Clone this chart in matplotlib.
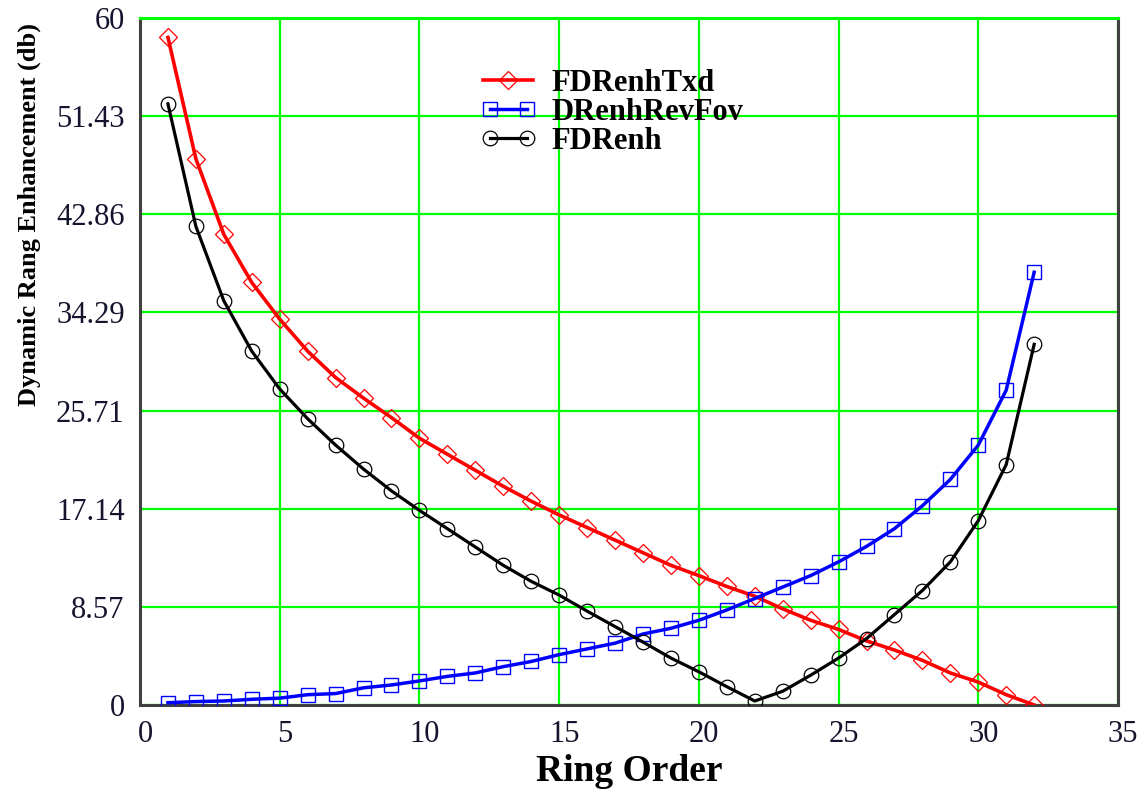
import matplotlib
matplotlib.use("Agg")
import matplotlib.pyplot as plt
from matplotlib.legend_handler import HandlerLine2D
from matplotlib.transforms import ScaledTranslation

# Ring order index
ring_order = list(range(1, 33))

# Dynamic range enhancement (dB) per ring
fdrenh_txd = [58.3, 47.7, 41.1, 36.9, 33.7, 30.9, 28.6, 26.8, 25.1, 23.3,
              21.9, 20.5, 19.1, 17.8, 16.6, 15.5, 14.4, 13.3, 12.2, 11.3,
              10.35, 9.5, 8.4, 7.4, 6.6, 5.6, 4.8, 3.9, 2.8, 2.0, 0.9, 0.0]
drenh_rev_fov = [0.2, 0.3, 0.35, 0.5, 0.6, 0.9, 1.0, 1.5, 1.75, 2.1,
                 2.5, 2.8, 3.35, 3.8, 4.4, 4.9, 5.4, 6.2, 6.7, 7.4,
                 8.3, 9.3, 10.3, 11.3, 12.5, 13.85, 15.4, 17.4, 19.7, 22.7,
                 27.5, 37.8]
fdrenh = [52.5, 41.8, 35.3, 30.9, 27.6, 25.0, 22.7, 20.6, 18.7, 17.0,
          15.4, 13.8, 12.2, 10.8, 9.6, 8.2, 6.85, 5.5, 4.1, 2.9,
          1.6, 0.35, 1.2, 2.6, 4.1, 5.8, 7.9, 10.0, 12.5, 16.1,
          21.0, 31.5]

series_labels = ["FDRenhTxd", "DRenhRevFov", "FDRenh"]

x_ticks = [0, 5, 10, 15, 20, 25, 30, 35]
y_ticks = [0, 60 / 7, 120 / 7, 180 / 7, 240 / 7, 300 / 7, 360 / 7, 60]
y_tick_labels = ["0", "8.57", "17.14", "25.71", "34.29", "42.86", "51.43", "60"]

serif = ["Liberation Serif", "DejaVu Serif"]
tick_color = "#14142e"
grid_green = "#00ff00"
frame_gray = "#404040"

fig = plt.figure(figsize=(11.46, 7.93), dpi=100)
ax = fig.add_axes([140 / 1146, 1 - 705 / 793, 978 / 1146, 687 / 793])

ax.set_xlim(0, 35)
ax.set_ylim(0, 60)
ax.set_xticks(x_ticks)
ax.set_yticks(y_ticks)
ax.set_yticklabels(y_tick_labels)

ax.grid(True, color=grid_green, linewidth=1.6)
ax.set_axisbelow(True)
ax.tick_params(length=0, colors=tick_color, labelsize=22)
ax.tick_params(axis="y", pad=11)
ax.tick_params(axis="x", pad=11)
for lab in ax.get_xticklabels() + ax.get_yticklabels():
    lab.set_fontfamily(serif)
# nudge the x tick labels slightly to the right
shift = ScaledTranslation(5 / 100, 0, fig.dpi_scale_trans)
for lab in ax.get_xticklabels():
    lab.set_transform(lab.get_transform() + shift)

for side in ("left", "bottom", "right"):
    ax.spines[side].set_color(frame_gray)
    ax.spines[side].set_linewidth(2.2)
ax.spines["top"].set_color(grid_green)
ax.spines["top"].set_linewidth(2.2)

l_red, = ax.plot(ring_order, fdrenh_txd, color="#ff0000", linewidth=2.6,
                 marker="D", markersize=9.5, markerfacecolor="none",
                 markeredgecolor="#ff0000", markeredgewidth=0.9,
                 label=series_labels[0], zorder=3)
l_blue, = ax.plot(ring_order, drenh_rev_fov, color="#0000ff", linewidth=2.5,
                  marker="s", markersize=10.5, markerfacecolor="none",
                  markeredgecolor="#0000ff", markeredgewidth=1.0,
                  label=series_labels[1], zorder=4)
l_black, = ax.plot(ring_order, fdrenh, color="black", linewidth=2.3,
                   marker="o", markersize=10.5, markerfacecolor="none",
                   markeredgecolor="black", markeredgewidth=0.9,
                   label=series_labels[2], zorder=5)

ax.set_xlabel("Ring Order", fontsize=27, fontweight="bold",
              fontfamily=serif, color="black")
ax.xaxis.set_label_coords(0.5, -0.071)
ax.xaxis.label.set_va("top")
ax.set_ylabel("Dynamic Rang Enhancement (db)", fontsize=19,
              fontweight="bold", fontfamily=serif, color="black")
ax.yaxis.set_label_coords(-0.101, 0.714)

leg = ax.legend(
    handles=[l_red, l_blue, l_black],
    handler_map={
        l_red: HandlerLine2D(numpoints=1),
        l_blue: HandlerLine2D(numpoints=2, marker_pad=0.22),
        l_black: HandlerLine2D(numpoints=2, marker_pad=0.22),
    },
    loc="upper left",
    bbox_to_anchor=(483 / 1146, 1 - 69 / 793),
    bbox_transform=fig.transFigure,
    frameon=False,
    borderpad=0, borderaxespad=0,
    handlelength=1.65, handletextpad=0.6, labelspacing=0.0,
    prop={"family": serif, "weight": "bold", "size": 22},
)
for t in leg.get_texts():
    t.set_color("black")

fig.savefig("out.png", dpi=100, facecolor="white")
